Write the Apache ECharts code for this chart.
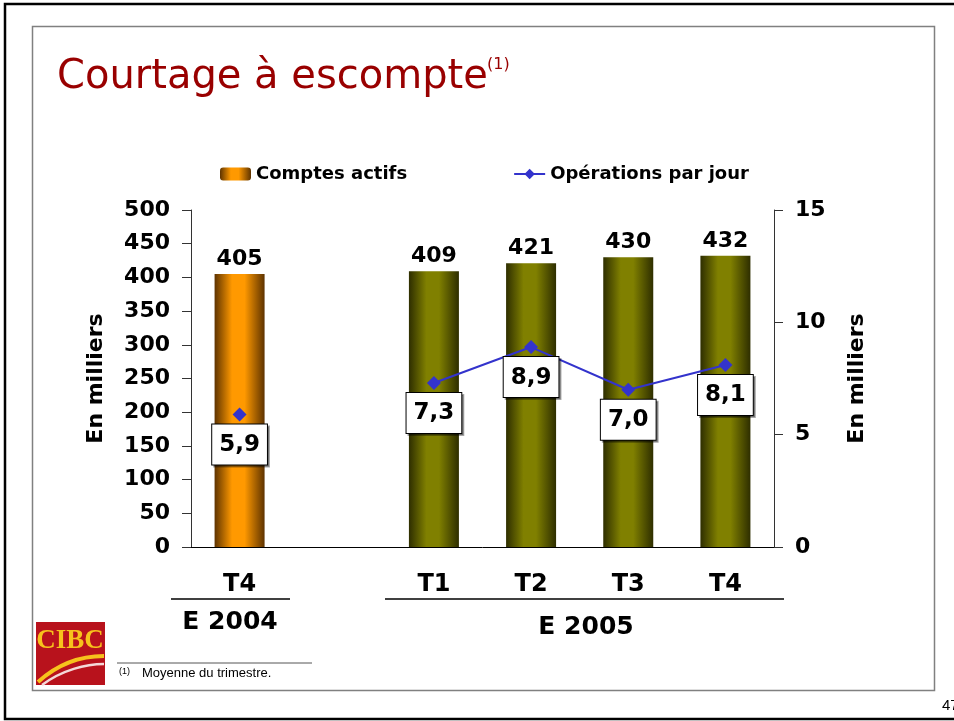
<!DOCTYPE html>
<html>
<head>
<meta charset="utf-8">
<title>Courtage à escompte</title>
<script src="https://cdn.jsdelivr.net/npm/echarts@6/dist/echarts.min.js"></script>
<style>
  html, body { margin: 0; padding: 0; background: #fff; }
  #chart { width: 954px; height: 721px; }
</style>
</head>
<body>
<div id="chart"></div>
<script>
// data
var quarters = ['T4', '', 'T1', 'T2', 'T3', 'T4'];
var comptesActifs = [405, '-', 409, 421, 430, 432];
var operationsParJour = [5.9, '-', 7.3, 8.9, 7.0, 8.1];
var leftTicks = { min: 0, max: 500, interval: 50 };
var rightTicks = { min: 0, max: 15, interval: 5 };

var FONT = 'DejaVu Sans, Verdana, sans-serif';

function barGradient (edge, mid) {
  return new echarts.graphic.LinearGradient(0, 0, 1, 0, [
    { offset: 0, color: edge },
    { offset: 0.35, color: mid },
    { offset: 0.6, color: mid },
    { offset: 1, color: edge }
  ]);
}

var orange = barGradient('#5e3300', '#ff9900');
var olive = barGradient('#2e2e00', '#808000');

var chart = echarts.init(document.getElementById('chart'));

var barData = comptesActifs.map(function (v, i) {
  if (i === 0) {
    return { value: v };
  }
  return { value: v, itemStyle: { color: olive } };
});

var option = {
  animation: false,
  backgroundColor: '#fff',
  textStyle: { fontFamily: FONT },
  grid: { left: 191, right: 180, top: 210, bottom: 174 },
  legend: {
    left: 215,
    top: 160,
    itemWidth: 31,
    itemHeight: 13,
    itemGap: 106,
    textStyle: { fontFamily: FONT, fontWeight: 'bold', fontSize: 18, color: '#000' },
    data: ['Comptes actifs', 'Opérations par jour']
  },
  xAxis: {
    type: 'category',
    data: quarters,
    axisLine: { show: true, lineStyle: { color: '#000', width: 1 } },
    axisTick: { show: false },
    axisLabel: { margin: 26, fontFamily: FONT, fontWeight: 'bold', fontSize: 24, color: '#000' }
  },
  yAxis: [{
    type: 'value',
    min: leftTicks.min,
    max: leftTicks.max,
    interval: leftTicks.interval,
    name: 'En milliers',
    nameLocation: 'middle',
    nameRotate: 90,
    nameGap: 84,
    nameTextStyle: { fontFamily: FONT, fontWeight: 'bold', fontSize: 22, color: '#000' },
    axisLine: { show: true, lineStyle: { color: '#333' } },
    axisTick: { show: true, length: 9, lineStyle: { color: '#333' } },
    splitLine: { show: false },
    axisLabel: { margin: 21, fontFamily: FONT, fontWeight: 'bold', fontSize: 22, color: '#000' }
  }, {
    type: 'value',
    position: 'right',
    min: rightTicks.min,
    max: rightTicks.max,
    interval: rightTicks.interval,
    name: 'En milliers',
    nameLocation: 'middle',
    nameRotate: 90,
    nameGap: 72,
    nameTextStyle: { fontFamily: FONT, fontWeight: 'bold', fontSize: 22, color: '#000' },
    axisLine: { show: true, lineStyle: { color: '#333' } },
    axisTick: { show: true, length: 9, lineStyle: { color: '#333' } },
    splitLine: { show: false },
    axisLabel: { margin: 21, fontFamily: FONT, fontWeight: 'bold', fontSize: 22, color: '#000' }
  }],
  series: [{
    name: 'Comptes actifs',
    type: 'bar',
    barWidth: 50,
    itemStyle: { color: orange },
    label: {
      show: true,
      position: 'top',
      distance: 4,
      fontFamily: FONT,
      fontWeight: 'bold',
      fontSize: 22,
      color: '#000'
    },
    data: barData
  }, {
    name: 'Opérations par jour',
    type: 'line',
    yAxisIndex: 1,
    symbol: 'diamond',
    symbolSize: 14,
    connectNulls: false,
    lineStyle: { color: '#3333cc', width: 2 },
    itemStyle: { color: '#3333cc' },
    label: {
      show: true,
      position: 'bottom',
      distance: 3,
      fontFamily: FONT,
      fontWeight: 'bold',
      fontSize: 23,
      color: '#000',
      backgroundColor: '#fff',
      borderColor: '#000',
      borderWidth: 1,
      padding: [9, 7, 8, 7],
      shadowColor: 'rgba(0,0,0,0.35)',
      shadowOffsetX: 2,
      shadowOffsetY: 2,
      shadowBlur: 0,
      formatter: function (p) {
        return Number(p.value).toFixed(1).replace('.', ',');
      }
    },
    data: operationsParJour
  }],
  graphic: [
    // slide frames
    { type: 'rect', shape: { x: 5, y: 4, width: 980, height: 715 }, style: { fill: 'none', stroke: '#000', lineWidth: 2.5 }, silent: true },
    { type: 'rect', shape: { x: 32.5, y: 26.5, width: 902, height: 664 }, style: { fill: 'none', stroke: '#808080', lineWidth: 1.5 }, silent: true },
    // title
    {
      type: 'text', left: 57, top: 58,
      style: {
        text: 'Courtage à escompte',
        font: '40px ' + FONT,
        fill: '#990000',
        textShadowColor: 'rgba(0,0,0,0.25)',
        textShadowOffsetX: 2,
        textShadowOffsetY: 2
      }
    },
    {
      type: 'text', left: 487, top: 57,
      style: { text: '(1)', font: '16px ' + FONT, fill: '#990000' }
    },
    // year group rules and labels
    { type: 'line', shape: { x1: 171, y1: 599, x2: 290, y2: 599 }, style: { stroke: '#000', lineWidth: 1.5 } },
    { type: 'line', shape: { x1: 385, y1: 599, x2: 784, y2: 599 }, style: { stroke: '#000', lineWidth: 1.5 } },
    {
      type: 'text', x: 230, y: 622,
      style: { text: 'E 2004', font: 'bold 25px ' + FONT, fill: '#000', align: 'center', verticalAlign: 'middle' }
    },
    {
      type: 'text', x: 586, y: 627,
      style: { text: 'E 2005', font: 'bold 25px ' + FONT, fill: '#000', align: 'center', verticalAlign: 'middle' }
    },
    // CIBC logo
    { type: 'rect', shape: { x: 36, y: 622, width: 69, height: 63 }, style: { fill: '#b8121c' } },
    {
      type: 'text', x: 70, y: 641,
      style: { text: 'CIBC', font: 'bold 27px Liberation Serif, DejaVu Serif, serif', fill: '#f7c21c', align: 'center', verticalAlign: 'middle' }
    },
    { type: 'bezierCurve', shape: { x1: 38, y1: 682, x2: 104, y2: 656, cpx1: 60, cpy1: 662, cpx2: 84, cpy2: 656 }, style: { stroke: '#f7c21c', lineWidth: 4, fill: 'none' } },
    { type: 'bezierCurve', shape: { x1: 42, y1: 685, x2: 104, y2: 664, cpx1: 62, cpy1: 670, cpx2: 86, cpy2: 664 }, style: { stroke: '#f4d9d9', lineWidth: 2.5, fill: 'none' } },
    // footnote
    { type: 'line', shape: { x1: 117, y1: 663, x2: 312, y2: 663 }, style: { stroke: '#555', lineWidth: 1 } },
    {
      type: 'text', left: 119, top: 667,
      style: { text: '(1)', font: '9px Liberation Sans, Arial, sans-serif', fill: '#000' }
    },
    {
      type: 'text', left: 142, top: 667,
      style: { text: 'Moyenne du trimestre.', font: '13px Liberation Sans, Arial, sans-serif', fill: '#000' }
    },
    // page number
    {
      type: 'text', left: 942, top: 698,
      style: { text: '47', font: '15px Liberation Sans, Arial, sans-serif', fill: '#000' }
    }
  ]
};

chart.setOption(option);
</script>
</body>
</html>
